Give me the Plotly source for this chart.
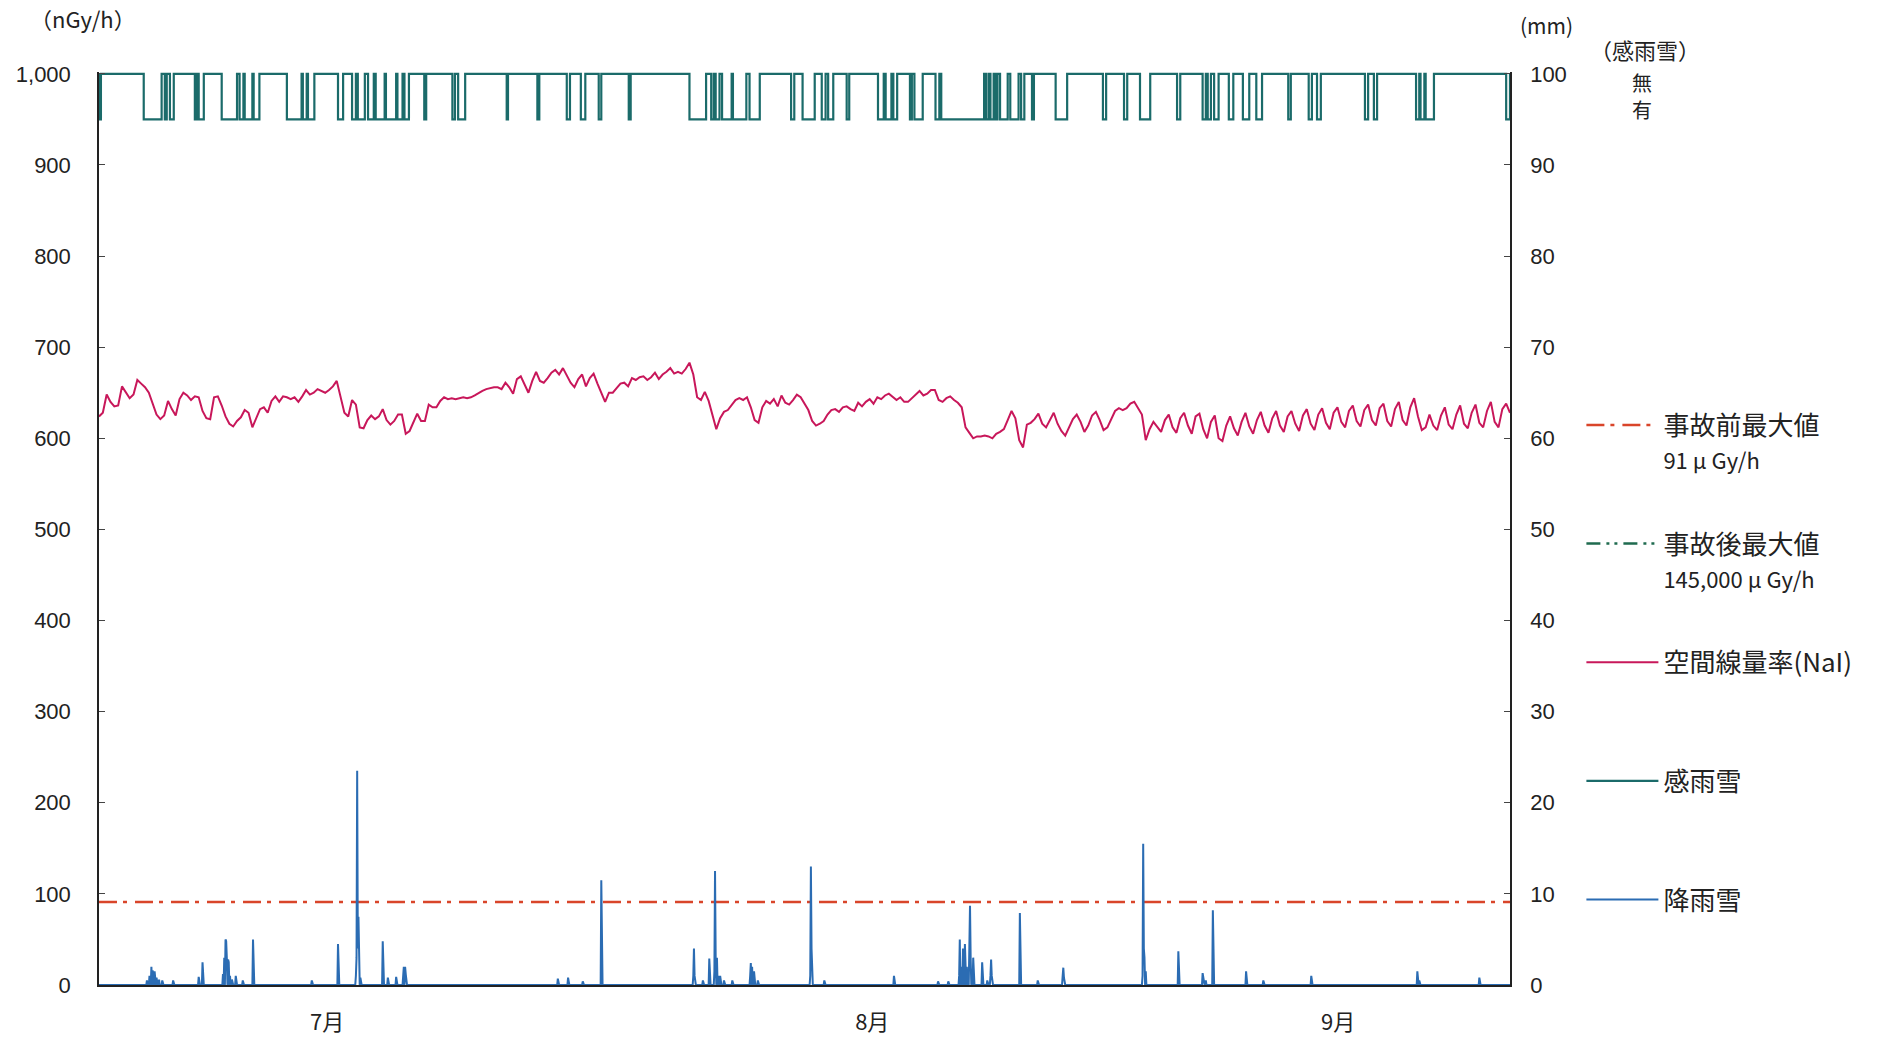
import plotly.graph_objects as go

# Time axis: hours counted from the start of the period (6-hourly dose samples)
PERIOD_HOURS = 2208
DOSE_STEP_HOURS = 6

# Ambient dose rate, NaI detector (nGy/h), four samples per day
dose_nai = [
    624, 628, 648, 640,  635, 636, 657, 650,  644, 648, 664, 660,  656, 650, 638, 626,
    621, 625, 641, 632,  625, 643, 650, 647,  642, 646, 645, 630,  622, 621, 645, 646,
    636, 624, 616, 613,  619, 623, 631, 628,  612, 622, 632, 634,  628, 641, 646, 640,
    646, 645, 643, 645,  640, 646, 653, 648,  650, 654, 652, 650,  653, 657, 663, 646,
    628, 624, 642, 637,  612, 611, 620, 625,  621, 624, 632, 620,  615, 619, 626, 626,
    605, 608, 618, 627,  619, 619, 637, 634,  634, 641, 645, 643,  644, 643, 644, 645,
    644, 645, 647, 650,  652, 654, 655, 656,  656, 654, 661, 656,  649, 665, 668, 658,
    650, 663, 673, 663,  661, 666, 672, 675,  670, 677, 669, 661,  656, 665, 670, 657,
    666, 671, 660, 650,  640, 650, 650, 655,  660, 661, 657, 666,  664, 667, 668, 664,
    667, 672, 665, 670,  673, 677, 671, 673,  671, 676, 683, 670,  645, 642, 651, 641,
    625, 610, 622, 629,  631, 636, 642, 644,  642, 645, 634, 620,  617, 634, 641, 638,
    643, 635, 647, 639,  637, 642, 648, 645,  638, 631, 619, 614,  616, 619, 626, 631,
    632, 629, 634, 635,  632, 630, 639, 635,  640, 643, 638, 645,  643, 647, 649, 646,
    642, 645, 640, 640,  644, 648, 652, 647,  649, 653, 653, 642,  640, 644, 646, 642,
    639, 634, 612, 606,  600, 602, 602, 603,  602, 600, 605, 607,  610, 620, 630, 622,
    598, 590, 615, 617,  621, 627, 616, 612,  620, 628, 616, 608,  603, 612, 621, 626,
    618, 607, 614, 625,  629, 620, 609, 612,  622, 630, 633, 631,  633, 638, 640, 633,
    626, 598, 610, 618,  612, 607, 620, 626,  612, 606, 622, 628,  614, 605, 624, 627,
    610, 600, 618, 625,  600, 597, 614, 624,  611, 603, 618, 628,  613, 605, 620, 629,
    614, 606, 622, 630,  614, 607, 624, 630,  616, 608, 625, 632,  616, 609, 626, 633,
    617, 610, 628, 634,  618, 612, 630, 636,  619, 613, 631, 637,  620, 614, 633, 638,
    619, 613, 632, 640,  620, 614, 634, 644,  624, 609, 612, 626,  614, 609, 625, 634,
    615, 610, 626, 636,  616, 611, 628, 637,  617, 612, 630, 640,  618, 612, 632, 638,
    628,
]

# Hourly precipitation (mm): hours with rain and their amounts
rain_hour = [
    75, 79, 82, 84, 87, 90, 94, 99, 116, 156, 162, 163,
    194, 196, 198, 199, 200, 202, 203, 205, 208, 214, 225, 241,
    333, 374, 402, 403, 404, 405, 406, 407, 409, 444, 452, 465,
    476, 477, 479, 480, 718, 734, 757, 786,
    930, 931, 932, 945, 955, 963, 964, 965, 967, 969, 972, 978, 991,
    1019, 1020, 1022, 1025, 1026, 1031, 1113, 1114, 1115, 1116, 1135, 1244,
    1313, 1329, 1346, 1347, 1349, 1352, 1355, 1358, 1362, 1363, 1364, 1366, 1368,
    1382, 1390, 1395, 1396, 1397, 1441, 1442, 1469, 1508, 1509, 1510,
    1633, 1634, 1635, 1636, 1638, 1689, 1727, 1728, 1732, 1743, 1744,
    1795, 1822, 1897, 2063, 2064, 2066, 2160,
]
rain_mm = [
    0.5, 1.0, 2.0, 1.6, 1.5, 0.8, 0.6, 0.5, 0.5, 0.9, 2.5, 1.0,
    1.2, 3.0, 5.0, 4.8, 3.0, 2.8, 2.5, 1.0, 0.6, 1.0, 0.5, 5.0,
    0.5, 4.5, 1.0, 3.0, 23.5, 4.0, 7.5, 2.0, 0.8, 4.8, 0.8, 0.9,
    1.0, 2.0, 2.0, 1.2, 0.7, 0.8, 0.4, 11.5,
    1.0, 4.0, 1.0, 0.5, 2.9, 1.5, 12.5, 3.0, 3.0, 1.0, 1.0, 0.5, 0.5,
    1.0, 2.4, 2.0, 1.5, 0.5, 0.5, 1.0, 13.0, 4.0, 1.0, 0.5, 1.0,
    0.4, 0.4, 1.0, 5.0, 2.0, 4.0, 4.5, 2.0, 3.0, 8.7, 3.0, 1.0, 3.0,
    2.5, 0.5, 1.0, 2.8, 1.0, 7.9, 1.0, 0.5, 1.0, 1.9, 0.8,
    1.0, 15.5, 4.0, 3.0, 1.5, 3.7, 1.3, 0.6, 0.5, 8.2, 1.0,
    1.5, 0.5, 1.0, 1.5, 0.8, 0.5, 0.8,
]

# Rain/snow sensor: start and end hour of each "detected" period
sense_start = [
    0, 70, 103, 111, 150, 156, 192, 220, 228, 242, 294, 319, 327, 374, 396, 405,
    421, 433, 449, 467, 478, 509, 553, 562, 638, 686, 732, 754, 782, 829,
    924, 958, 965, 975, 992, 1018, 1083, 1101, 1131, 1141, 1170,
    1219, 1231, 1243, 1269, 1276, 1309, 1318, 1388, 1395, 1403, 1410, 1426,
    1443, 1460, 1497, 1571, 1604, 1629, 1687, 1727, 1735, 1745, 1768, 1790,
    1811, 1861, 1893, 1906, 1981, 1995, 2061, 2068, 2076, 2202,
]
sense_end = [
    3, 98, 106, 117, 153, 164, 216, 226, 240, 251, 317, 325, 337, 382, 402, 416,
    430, 447, 465, 475, 485, 512, 557, 573, 640, 689, 737, 761, 786, 832,
    950, 962, 971, 990, 1013, 1034, 1088, 1120, 1137, 1149, 1174,
    1228, 1240, 1249, 1272, 1289, 1315, 1385, 1392, 1400, 1406, 1422, 1439,
    1448, 1463, 1515, 1576, 1609, 1645, 1692, 1732, 1740, 1752, 1775, 1800,
    1820, 1865, 1898, 1912, 1986, 2000, 2066, 2074, 2089, 2208,
]
SENSE_OFF = 100  # 無
SENSE_ON = 95    # 有

# Reference levels (nGy/h)
pre_accident_max = 91
post_accident_max = 145_000_000

month_labels = ["7月", "8月", "9月"]
month_tick_hours = [357, 1210, 1939]

left_ticks = list(range(0, 1001, 100))
right_ticks = list(range(0, 101, 10))

# ---- derived series -------------------------------------------------------
dose_hours = [i * DOSE_STEP_HOURS for i in range(len(dose_nai))]

rain_series = [0.0] * (PERIOD_HOURS + 1)
for h, v in zip(rain_hour, rain_mm):
    rain_series[h] = v
rain_hours = list(range(PERIOD_HOURS + 1))

sense_x, sense_y = [0], [SENSE_OFF]
for s, e in zip(sense_start, sense_end):
    sense_x += [s, e]
    sense_y += [SENSE_ON, SENSE_OFF]
sense_x.append(PERIOD_HOURS)
sense_y.append(SENSE_OFF)

FONT = "Liberation Sans, Noto Sans CJK JP, sans-serif"
JP = "Noto Sans CJK JP, sans-serif"
C_PRE = "#d9452a"
C_POST = "#1f6b4f"
C_NAI = "#c8175a"
C_SENSE = "#1b6b6a"
C_RAIN = "#2b6cb3"


def sub_line(text):
    return "<br><span style='font-size:22px'>" + text + "</span>"


fig = go.Figure()

fig.add_trace(go.Scatter(
    x=[0, PERIOD_HOURS], y=[pre_accident_max, pre_accident_max], mode="lines",
    name="事故前最大値" + sub_line("91 μ Gy/h"),
    legendgroup="g1",
    line=dict(color=C_PRE, width=2.5, dash="18px,6px,4px,8px"),
    hoverinfo="skip",
))
fig.add_trace(go.Scatter(
    x=[0, PERIOD_HOURS], y=[post_accident_max, post_accident_max], mode="lines",
    name="事故後最大値" + sub_line("145,000 μ Gy/h"),
    legendgroup="g2",
    line=dict(color=C_POST, width=2.5, dash="14px,6px,3px,5px,3px,6px"),
    hoverinfo="skip",
))
fig.add_trace(go.Scatter(
    x=dose_hours, y=dose_nai, mode="lines",
    name="空間線量率(NaI)" + sub_line("\u00a0"), legendgroup="g3",
    line=dict(color=C_NAI, width=2),
))
fig.add_trace(go.Scatter(
    x=sense_x, y=sense_y, mode="lines", yaxis="y2",
    name="感雨雪" + sub_line("\u00a0"), legendgroup="g4",
    line=dict(color=C_SENSE, width=2.2, shape="hv"),
))
fig.add_trace(go.Scatter(
    x=rain_hours, y=rain_series, mode="lines", yaxis="y2",
    name="降雨雪" + sub_line("\u00a0"), legendgroup="g5",
    line=dict(color=C_RAIN, width=2),
))

fig.update_layout(
    width=1888, height=1037,
    margin=dict(l=99, r=378, t=72, b=52, autoexpand=False),
    paper_bgcolor="white", plot_bgcolor="white",
    font=dict(family=FONT, size=22, color="#222"),
    showlegend=True,
    legend=dict(
        x=1.0506, y=0.639, xanchor="left", yanchor="top",
        font=dict(family=JP, size=26, color="#222"),
        traceorder="grouped", tracegroupgap=48, itemwidth=72,
        valign="top", bgcolor="rgba(0,0,0,0)",
    ),
    xaxis=dict(
        range=[0, PERIOD_HOURS], tickvals=month_tick_hours, ticktext=month_labels,
        showline=True, linecolor="#222", linewidth=1.5, ticks="",
        showgrid=False, zeroline=False, ticklabelstandoff=17, automargin=False,
        tickfont=dict(family=JP, size=22, color="#222"),
    ),
    yaxis=dict(
        range=[0, 1002], tickvals=left_ticks, tickformat=",d",
        showline=True, linecolor="#222", linewidth=1.5,
        ticks="inside", ticklen=6, tickcolor="#444", automargin=False,
        showgrid=False, zeroline=False, ticklabelstandoff=22,
    ),
    yaxis2=dict(
        range=[0, 100.2], tickvals=right_ticks, overlaying="y", side="right",
        showline=True, linecolor="#222", linewidth=1.5, automargin=False,
        ticks="inside", ticklen=6, tickcolor="#444",
        showgrid=False, zeroline=False, ticklabelstandoff=14,
    ),
)

# Unit captions and sensor state labels
for text, x, y, size in [
    ("（nGy/h）", -0.0113, 1.059, 22),
    ("(mm)", 1.026, 1.052, 21),
    ("（感雨雪）", 1.0957, 1.0252, 22),
    ("無", 1.0936, 0.988, 20),
    ("有", 1.0936, 0.9589, 20),
]:
    fig.add_annotation(
        text=text, x=x, y=y, xref="paper", yref="paper",
        xanchor="center", yanchor="middle", showarrow=False,
        font=dict(family=JP, size=size, color="#222"),
    )

fig.write_html("out.html")
